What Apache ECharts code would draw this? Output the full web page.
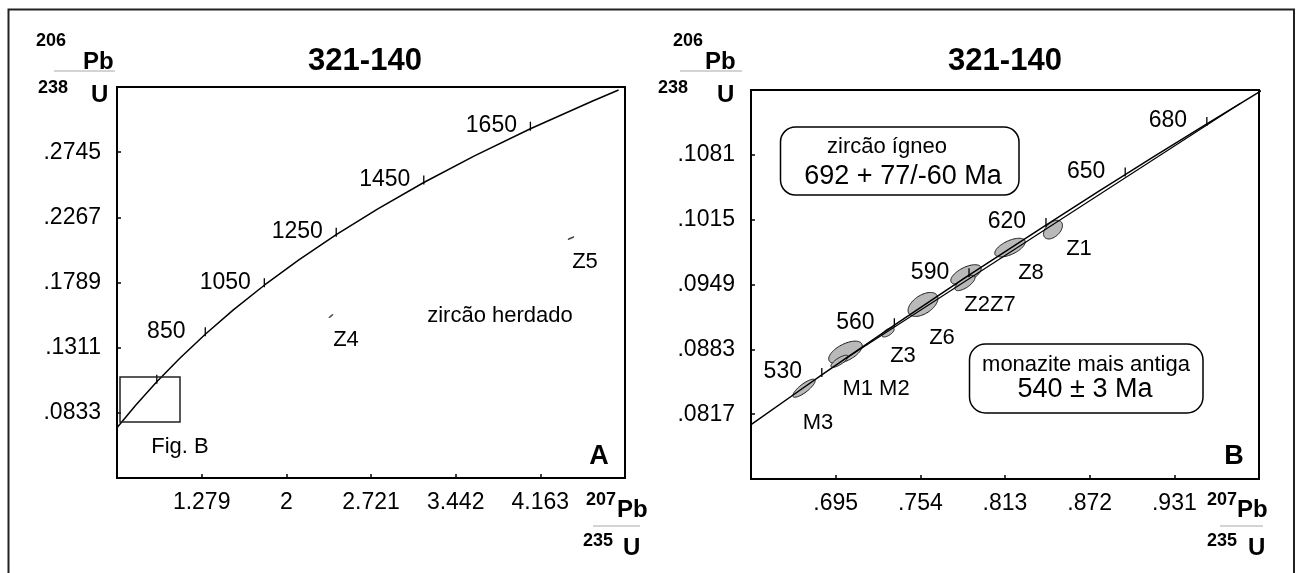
<!DOCTYPE html>
<html><head><meta charset="utf-8">
<script src="https://cdn.jsdelivr.net/npm/echarts@6/dist/echarts.min.js"></script>
<style>html,body{margin:0;padding:0;background:#fff}#c{width:1301px;height:573px}</style>
</head><body><div id="c"></div>
<script>
// ---------- DATA ----------
// Panel A concordia (age Ma, 207Pb/235U, 206Pb/238U)
const concA_age = [450,550,650,750,850,950,1050,1150,1250,1350,1450,1550,1650,1750,1790];
const concA_x = [0.55766,0.71887,0.89677,1.09308,1.30971,1.54876,1.81255,2.10365,2.42487,2.77933,3.17049,3.60212,4.07843,4.60404,4.82921];
const concA_y = [0.07230,0.08906,0.10609,0.12338,0.14094,0.15878,0.17690,0.19530,0.21398,0.23296,0.25224,0.27181,0.29170,0.31189,0.32006];
const ageTicksA = [450,650,850,1050,1250,1450,1650];
const ageLabelsA = ['','','850','1050','1250','1450','1650'];

// Panel B concordia
const concB_age = [500,520,530,540,560,580,590,600,620,640,650,660,680,692,700];
const concB_x = [0.636279,0.668829,0.685345,0.702026,0.735882,0.770413,0.787935,0.805631,0.841549,0.878182,0.896770,0.915543,0.953647,0.976873,0.992510];
const concB_y = [0.080650,0.084008,0.085690,0.087376,0.090755,0.094144,0.095843,0.097544,0.100955,0.104375,0.106090,0.107807,0.111250,0.113320,0.114702];
const ageTicksB = [530,560,590,620,650,680];
const ageLabelsB = ['530','560','590','620','650','680'];
const discordiaAges = [540,692];

// Ellipses panel A (inherited zircon)
const ellA_name = ['Z4','Z5'];
const ellA_x = [2.3803,4.424];
const ellA_y = [0.15427,0.21145];
const ellA_sx = [0.017,0.0255];
const ellA_sy = [0.0011,0.00095];
const ellA_rho = [0.95,0.95];
const ellA_label = ['Z4','Z5'];

// Ellipses panel B
const ellB_name = ['Z1','Z8','Z7','Z2','Z6','Z3','M1','M2','M3'];
const ellB_x = [0.84644,0.81648,0.78582,0.78512,0.75585,0.73147,0.70185,0.69767,0.67293];
const ellB_y = [0.100485,0.098657,0.095915,0.095053,0.09287,0.090026,0.087995,0.087082,0.08434];
const ellB_sx = [0.0066,0.0106,0.0106,0.0070,0.0104,0.0043,0.0117,0.0060,0.0078];
const ellB_sy = [0.00095,0.00095,0.00100,0.00078,0.00122,0.00047,0.00114,0.00062,0.00092];
const ellB_rho = [0.45,0.6,0.6,0.7,0.5,0.65,0.58,0.78,0.82];
const ellB_label = ['Z1','Z8','','Z2Z7','Z6','Z3','','M1 M2','M3'];

// Fig. B window drawn in panel A
const figB_x = [0.5836,1.0945];
const figB_y = [0.0766,0.1095];

// Axes
const axA = {xMin:0.558, xInt:0.721, yMin:0.0355, yInt:0.0478};
const axB = {xMin:0.636, xInt:0.059, yMin:0.0751, yInt:0.0066};
const xTickLabelsA = ['','1.279','2','2.721','3.442','4.163',''];
const yTickLabelsA = ['','.0833','.1311','.1789','.2267','.2745',''];
const xTickLabelsB = ['','.695','.754','.813','.872','.931',''];
const yTickLabelsB = ['','.0817','.0883','.0949','.1015','.1081',''];

// ---------- LAYOUT / STYLE ----------
const FONT = '"Liberation Sans", Arial, sans-serif';
const LBL_OFF_A = [[15,24],[14,24]];
const LBL_OFF_B = [[26,19],[21,25],null,[25,21.5],[19,33],[15,24],null,[36.5,28],[14,35]];

function tickFmt(labels, min, int){
  return v => labels[Math.round((v - min)/int)] || '';
}
function mkAxisX(idx, ax, labels){
  return {type:'value', gridIndex:idx, min:ax.xMin, max:ax.xMin+6*ax.xInt, interval:ax.xInt,
    axisLine:{show:false}, splitLine:{show:false},
    axisTick:{inside:true, length:4, lineStyle:{color:'#000', width:1.5}},
    axisLabel:{formatter:tickFmt(labels, ax.xMin, ax.xInt), fontFamily:FONT, fontSize:23, color:'#000', margin:13}};
}
function mkAxisY(idx, ax, labels){
  return {type:'value', gridIndex:idx, min:ax.yMin, max:ax.yMin+6*ax.yInt, interval:ax.yInt,
    axisLine:{show:false}, splitLine:{show:false},
    axisTick:{inside:true, length:4, lineStyle:{color:'#000', width:1.5}},
    axisLabel:{formatter:tickFmt(labels, ax.yMin, ax.yInt), fontFamily:FONT, fontSize:23, color:'#000', margin:16}};
}

function ellRender(offsets){
  return function(params, api){
    const cx=api.value(0), cy=api.value(1), sx=api.value(2), sy=api.value(3), r=api.value(4);
    const lab = api.value(5);
    const pts=[]; const q=Math.sqrt(1-r*r);
    for(let i=0;i<72;i++){
      const th=i/72*2*Math.PI;
      pts.push(api.coord([cx+sx*Math.cos(th), cy+sy*(r*Math.cos(th)+q*Math.sin(th))]));
    }
    const children=[{type:'polygon', shape:{points:pts}, style:{fill:'#b9b9b9', stroke:'#1a1a1a', lineWidth:1}}];
    const off = offsets[params.dataIndex];
    if(lab && off){
      const c = api.coord([cx,cy]);
      children.push({type:'text', x:c[0]+off[0], y:c[1]+off[1],
        style:{text:lab, font:'22px '+FONT, fill:'#000', align:'center', verticalAlign:'middle'}});
    }
    return {type:'group', children};
  };
}
function ageTickRender(params, api){
  const p = api.coord([api.value(0), api.value(1)]);
  const lab = api.value(2);
  const ch=[{type:'line', shape:{x1:p[0], y1:p[1]+2, x2:p[0], y2:p[1]-7}, style:{stroke:'#000', lineWidth:1.3}}];
  if(lab) ch.push({type:'text', x:p[0]-39, y:p[1]-3, style:{text:lab, font:'23px '+FONT, fill:'#000', align:'center', verticalAlign:'middle'}});
  return {type:'group', children:ch};
}

const concA = concA_x.map((x,i)=>[x, concA_y[i]]);
const concB = concB_x.map((x,i)=>[x, concB_y[i]]);
const ticksA = ageTicksA.map((t,i)=>{const k=concA_age.indexOf(t); return [concA_x[k], concA_y[k], ageLabelsA[i]];});
const ticksB = ageTicksB.map((t,i)=>{const k=concB_age.indexOf(t); return [concB_x[k], concB_y[k], ageLabelsB[i]];});
const disc = discordiaAges.map(t=>{const k=concB_age.indexOf(t); return [concB_x[k], concB_y[k]];});
const ellA = ellA_x.map((x,i)=>[x, ellA_y[i], ellA_sx[i], ellA_sy[i], ellA_rho[i], ellA_label[i]]);
const ellB = ellB_x.map((x,i)=>[x, ellB_y[i], ellB_sx[i], ellB_sy[i], ellB_rho[i], ellB_label[i]]);

function txt(t, x, y, size, bold, align){
  return {type:'text', x, y, z:10, style:{text:t, font:(bold?'bold ':'')+size+'px '+FONT, fill:'#000', align:align||'left', verticalAlign:'middle'}};
}
function hline(x1, x2, y){
  return {type:'line', z:10, shape:{x1, y1:y, x2, y2:y}, style:{stroke:'#a8a8a8', lineWidth:1}};
}

const graphics = [
  {type:'rect', z:0, shape:{x:8.5, y:9.5, width:1285.5, height:620}, style:{fill:'none', stroke:'#222', lineWidth:2}},
  // titles
  txt('321-140', 365, 61, 31, true, 'center'),
  txt('321-140', 1005, 61, 31, true, 'center'),
  // Y label A
  txt('206', 36, 41, 18, true), txt('Pb', 83, 62, 24, true), hline(54,115,71), txt('238', 38, 88, 18, true), txt('U', 91, 95, 24, true),
  // Y label B
  txt('206', 673, 41, 18, true), txt('Pb', 705, 62, 24, true), hline(680,742,71), txt('238', 658, 88, 18, true), txt('U', 717, 95, 24, true),
  // X label A
  txt('207', 586, 500, 18, true), txt('Pb', 617, 510, 24, true), hline(593,640,526), txt('235', 583, 541, 18, true), txt('U', 623, 548, 24, true),
  // X label B
  txt('207', 1207, 500, 18, true), txt('Pb', 1237, 510, 24, true), hline(1220,1263,526), txt('235', 1207, 541, 18, true), txt('U', 1248, 548, 24, true),
  // panel annotations
  txt('zircão herdado', 500, 316, 22, false, 'center'),
  txt('Fig. B', 180, 447, 22, false, 'center'),
  txt('A', 599, 457, 27, true, 'center'),
  txt('B', 1234, 457, 27, true, 'center'),
  {type:'rect', z:5, shape:{x:780.5, y:127, width:238.5, height:68, r:15}, style:{fill:'#fff', stroke:'#000', lineWidth:1.5}},
  txt('zircão ígneo', 887, 147, 22, false, 'center'),
  txt('692 + 77/-60 Ma', 903, 177, 27, false, 'center'),
  {type:'rect', z:5, shape:{x:969.5, y:344, width:233.5, height:69, r:16}, style:{fill:'#fff', stroke:'#000', lineWidth:1.5}},
  txt('monazite mais antiga', 1086, 365, 22, false, 'center'),
  txt('540 ± 3 Ma', 1085, 390, 27, false, 'center')
];

const option = {
  backgroundColor:'#fff',
  animation:false,
  grid:[
    {left:117, top:87, width:508, height:391, show:true, borderColor:'#000', borderWidth:2, backgroundColor:'transparent'},
    {left:751, top:90, width:508, height:389, show:true, borderColor:'#000', borderWidth:2, backgroundColor:'transparent'}
  ],
  xAxis:[mkAxisX(0, axA, xTickLabelsA), mkAxisX(1, axB, xTickLabelsB)],
  yAxis:[mkAxisY(0, axA, yTickLabelsA), mkAxisY(1, axB, yTickLabelsB)],
  series:[
    {type:'custom', xAxisIndex:0, yAxisIndex:0, z:2, data:ellA, renderItem:ellRender(LBL_OFF_A), encode:{x:0,y:1}},
    {type:'line', xAxisIndex:0, yAxisIndex:0, z:3, data:concA, symbol:'none', lineStyle:{color:'#000', width:1.5}},
    {type:'custom', xAxisIndex:0, yAxisIndex:0, z:4, data:ticksA, renderItem:ageTickRender, encode:{x:0,y:1}},
    {type:'custom', xAxisIndex:0, yAxisIndex:0, z:4, data:[[figB_x[0], figB_y[0], figB_x[1], figB_y[1]]],
      renderItem:(p, api)=>{const a=api.coord([api.value(0),api.value(1)]), b=api.coord([api.value(2),api.value(3)]);
        return {type:'rect', shape:{x:a[0], y:b[1], width:b[0]-a[0], height:a[1]-b[1]}, style:{fill:'none', stroke:'#222', lineWidth:1.5}};}},
    {type:'custom', xAxisIndex:1, yAxisIndex:1, z:2, data:ellB, renderItem:ellRender(LBL_OFF_B), encode:{x:0,y:1}},
    {type:'line', xAxisIndex:1, yAxisIndex:1, z:3, data:concB, symbol:'none', clip:true, lineStyle:{color:'#000', width:1.5}},
    {type:'line', xAxisIndex:1, yAxisIndex:1, z:3, data:disc, symbol:'none', lineStyle:{color:'#000', width:1.2}},
    {type:'custom', xAxisIndex:1, yAxisIndex:1, z:4, data:ticksB, renderItem:ageTickRender, encode:{x:0,y:1}}
  ],
  graphic: graphics
};
const chart = echarts.init(document.getElementById('c'));
chart.setOption(option);
</script></body></html>
